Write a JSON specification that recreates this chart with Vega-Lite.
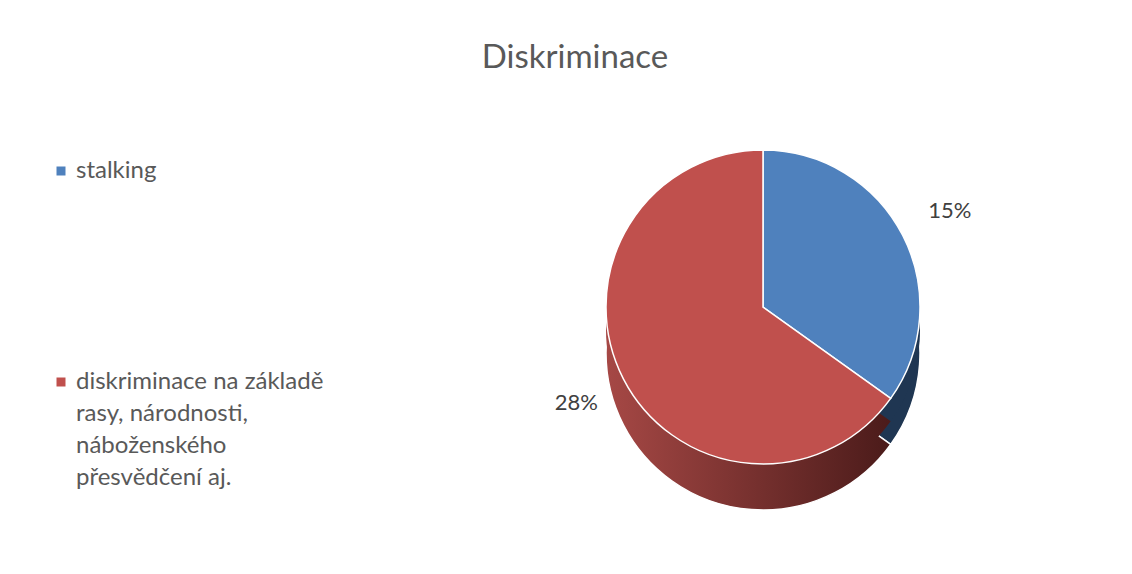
{
  "$schema": "https://vega.github.io/schema/vega-lite/v6.json",
  "width": 738,
  "height": 514,
  "autosize": {"type": "none"},
  "padding": {"left": 394, "top": 50, "right": 0, "bottom": 10},
  "background": "white",
  "title": {"text": "Diskriminace", "fontSize": 33, "font": "Lato", "fontWeight": "normal", "color": "#595959", "anchor": "middle", "dx": -188, "offset": -51, "baseline": "alphabetic"},
  "data": {"values": [
    {"category": "stalking", "value": 0.15},
    {"category": "diskriminace na základě rasy, národnosti, náboženského přesvědčení aj.", "value": 0.28}
  ]},
  "encoding": {
    "theta": {"field": "value", "type": "quantitative", "stack": true},
    "order": {"field": "value", "type": "quantitative", "sort": "ascending"}
  },
  "layer": [
    {
      "mark": {"type": "arc", "outerRadius": 157, "yOffset": 46, "stroke": "white", "strokeWidth": 1.5},
      "encoding": {
        "detail": {"field": "category", "type": "nominal"},
        "fill": {"condition": {"test": "datum.category == 'stalking'", "value": "#1F3652"}, "value": {"gradient": "linear", "x1": 0, "x2": 1, "y1": 0, "y2": 0, "stops": [{"offset": 0, "color": "#A64845"}, {"offset": 1, "color": "#4B1B1A"}]}}
      }
    },
    {
      "mark": {"type": "arc", "outerRadius": 157, "yOffset": 23},
      "encoding": {
        "detail": {"field": "category", "type": "nominal"},
        "fill": {"condition": {"test": "datum.category == 'stalking'", "value": "#1F3652"}, "value": {"gradient": "linear", "x1": 0, "x2": 1, "y1": 0, "y2": 0, "stops": [{"offset": 0, "color": "#A64845"}, {"offset": 1, "color": "#4B1B1A"}]}}
      }
    },
    {
      "mark": {"type": "arc", "outerRadius": 157, "stroke": "white", "strokeWidth": 1.5},
      "encoding": {
        "color": {
          "field": "category", "type": "nominal",
          "scale": {"domain": ["stalking", "diskriminace na základě rasy, národnosti, náboženského přesvědčení aj."], "range": ["#4F81BD", "#C0504D"]},
          "legend": {
            "orient": "none", "legendX": -345, "legendY": 109, "title": null, "padding": 0,
            "symbolType": "square", "symbolSize": 81, "symbolStrokeWidth": 0,
            "labelFont": "Lato", "labelFontSize": 24, "labelColor": "#595959", "labelLimit": 400, "labelOffset": 3,
            "rowPadding": 187,
            "labelExpr": "datum.label == 'stalking' ? datum.label : ['diskriminace na základě', 'rasy, národnosti,', 'náboženského', 'přesvědčení aj.']"
          }
        }
      }
    },
    {
      "mark": {"type": "text", "radius": 210, "font": "Lato", "fontSize": 22, "color": "#404040", "align": "center", "baseline": "middle"},
      "encoding": {
        "detail": {"field": "category", "type": "nominal"},
        "text": {"field": "value", "type": "quantitative", "format": ".0%"}
      }
    }
  ],
  "config": {
    "view": {"stroke": null},
    "style": {"guide-label": {"lineHeight": 32}}
  }
}
